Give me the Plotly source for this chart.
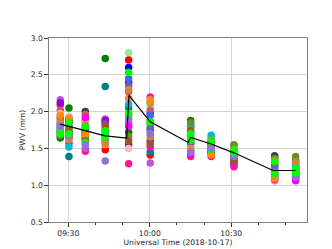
import plotly.graph_objects as go

# Observation times (one column of points per time)
times = ["2018-10-17 09:27:04", "2018-10-17 09:30:15", "2018-10-17 09:36:16",
         "2018-10-17 09:43:37", "2018-10-17 09:52:14", "2018-10-17 10:00:11",
         "2018-10-17 10:15:03", "2018-10-17 10:22:38", "2018-10-17 10:31:00",
         "2018-10-17 10:45:59", "2018-10-17 10:53:43"]

# Station colours (one per series)
station_colors = ["#90ee90", "#ff0000", "#0000ff", "#ff1493", "#ff7f50", "#ba55d3",
                  "#008080", "#008000", "#404040", "#cd5c5c", "#9400d3", "#ffb6c1",
                  "#ff00ff", "#00bcd0", "#6b8e23", "#6a5acd", "#4169e1", "#cd853f",
                  "#ff8c00", "#a0522d", "#00ff00", "#9370db", "#00ff00"]

# PWV (mm) per time column, index = station
pwv_0927 = [1.88, 1.72, 1.78, 2.09, 1.70, 2.16, 1.66, 1.64, 1.84, 2.02, 2.12, 1.97,
            1.93, 1.75, 1.68, 1.90, 1.81, 1.86, 1.95, 1.73, 1.76, 1.80, 1.70]
pwv_0930 = [1.75, 1.65, 1.86, 1.57, 1.80, 1.70, 1.39, 2.05, 1.88, 1.78, 1.73, 1.93,
            1.68, 1.52, 1.76, 1.84, 1.90, 1.62, 1.91, 1.72, 1.85, 1.67, 1.70]
pwv_0936 = [1.80, 1.88, 1.74, 1.46, 1.66, 1.50, 1.70, 1.62, 2.00, 1.96, 1.68, 1.85,
            1.92, 1.78, 1.64, 1.76, 1.72, 1.82, 1.69, 1.60, 1.58, 1.55, 1.79]
pwv_0943 = [1.72, 1.48, 1.86, 1.62, 1.55, 1.90, 2.34, 2.72, 1.66, 1.70, 1.88, 1.64,
            1.78, 1.68, 1.75, 1.83, 1.60, 1.58, 1.76, 1.81, 1.74, 1.33, 1.65]
pwv_0952 = [2.80, 2.70, 2.60, 1.29, 2.18, 1.85, 2.05, 1.72, 1.55, 2.27, 2.40, 1.50,
            1.80, 2.10, 1.66, 2.35, 2.45, 2.30, 1.95, 1.60, 2.53, 1.90, 1.98]
pwv_1000 = [2.08, 1.41, 1.97, 2.20, 2.16, 1.30, 1.45, 1.88, 1.75, 2.02, 1.60, 1.92,
            1.52, 2.12, 1.83, 1.78, 1.95, 1.65, 2.13, 1.56, 1.70, 1.70, 1.86]
pwv_1015 = [1.75, 1.62, 1.80, 1.39, 1.55, 1.83, 1.72, 1.88, 1.47, 1.66, 1.59, 1.52,
            1.43, 1.78, 1.85, 1.68, 1.57, 1.64, 1.50, 1.74, 1.70, 1.45, 1.61]
pwv_1022 = [1.62, 1.55, 1.45, 1.39, 1.50, 1.58, 1.52, 1.60, 1.47, 1.64, 1.42, 1.66,
            1.44, 1.68, 1.57, 1.53, 1.49, 1.61, 1.41, 1.56, 1.48, 1.51, 1.59]
pwv_1031 = [1.50, 1.40, 1.36, 1.25, 1.45, 1.30, 1.42, 1.54, 1.33, 1.47, 1.38, 1.52,
            1.28, 1.35, 1.55, 1.41, 1.37, 1.49, 1.44, 1.32, 1.48, 1.39, 1.44]
pwv_1046 = [1.30, 1.15, 1.22, 1.10, 1.06, 1.12, 1.25, 1.38, 1.40, 1.28, 1.18, 1.24,
            1.08, 1.20, 1.36, 1.26, 1.14, 1.34, 1.09, 1.31, 1.32, 1.17, 1.16]
pwv_1053 = [1.30, 1.18, 1.24, 1.12, 1.14, 1.08, 1.20, 1.34, 1.27, 1.22, 1.10, 1.26,
            1.06, 1.28, 1.39, 1.21, 1.16, 1.32, 1.19, 1.15, 1.23, 1.11, 1.17]

columns = [pwv_0927, pwv_0930, pwv_0936, pwv_0943, pwv_0952, pwv_1000,
           pwv_1015, pwv_1022, pwv_1031, pwv_1046, pwv_1053]

# Mean PWV line
mean_times = ["2018-10-17 09:27:04", "2018-10-17 09:30:15", "2018-10-17 09:36:16",
              "2018-10-17 09:43:37", "2018-10-17 09:51:30", "2018-10-17 09:52:20",
              "2018-10-17 10:00:11", "2018-10-17 10:14:10", "2018-10-17 10:15:03",
              "2018-10-17 10:22:38", "2018-10-17 10:31:00", "2018-10-17 10:45:25",
              "2018-10-17 10:53:43"]
mean_pwv = [1.83, 1.80, 1.74, 1.67, 1.64, 2.22, 1.86, 1.58, 1.65, 1.56, 1.44, 1.20, 1.20]

fig = go.Figure()
for i, c in enumerate(station_colors):
    fig.add_trace(go.Scatter(
        x=times, y=[col[i] for col in columns], mode="markers",
        marker=dict(color=c, size=7.5, line=dict(width=0)),
        showlegend=False, hoverinfo="skip"))

fig.add_trace(go.Scatter(x=mean_times, y=mean_pwv, mode="lines",
                         line=dict(color="black", width=1.2), showlegend=False))

font = dict(family="DejaVu Sans", size=7.6, color="#262626")
fig.update_layout(
    width=332, height=249,
    margin=dict(l=41, r=33, t=30, b=27),
    paper_bgcolor="white", plot_bgcolor="white",
    font=font,
    xaxis=dict(
        type="date",
        range=["2018-10-17 09:22:54", "2018-10-17 10:57:54"],
        tickvals=["2018-10-17 09:30", "2018-10-17 10:00", "2018-10-17 10:30"],
        ticktext=["09:30", "10:00", "10:30"],
        showgrid=True, gridcolor="#d4d4d4", gridwidth=1,
        showline=True, linecolor="#808080", linewidth=1.2, mirror=True,
        ticks="outside", ticklen=3.5, tickcolor="#333333", tickwidth=0.8,
        minor=dict(dtick=600000, ticks="outside", ticklen=2, tickcolor="#333333",
                   showgrid=False),
        title=dict(text="Universal Time (2018-10-17)", font=font, standoff=2),
        zeroline=False,
    ),
    yaxis=dict(
        range=[0.5, 3.0], tickvals=[0.5, 1.0, 1.5, 2.0, 2.5, 3.0],
        ticktext=["0.5", "1.0", "1.5", "2.0", "2.5", "3.0"],
        showgrid=True, gridcolor="#d4d4d4", gridwidth=1,
        showline=True, linecolor="#808080", linewidth=1.2, mirror=True,
        ticks="outside", ticklen=3.5, tickcolor="#333333", tickwidth=0.8,
        title=dict(text="PWV (mm)", font=font, standoff=4),
        zeroline=False,
    ),
)

fig.write_html("out.html")
